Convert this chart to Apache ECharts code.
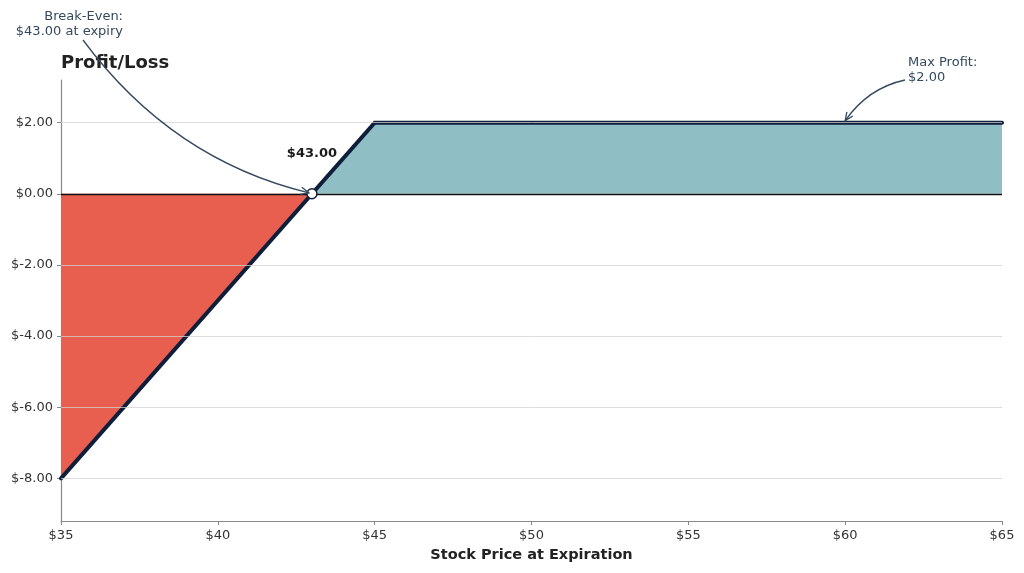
<!DOCTYPE html>
<html><head><meta charset="utf-8">
<script src="https://cdn.jsdelivr.net/npm/echarts@6/dist/echarts.min.js"></script>
<style>html,body{margin:0;padding:0;background:#fff}#c{width:1024px;height:573px}</style>
</head><body><div id="c"></div>
<script>
// ---- data ----
const lossArea = [[35, -8], [43, 0]];
const profitArea = [[43, 0], [45, 2], [65, 2]];
const payoff = [[35, -8], [45, 2], [65, 2]];
const breakEven = [43, 0];
const maxProfitPoint = [60, 2];
const yTickValues = [-8, -6, -4, -2, 0, 2];
const gridValues = [-8, -6, -4, -2, 2];
const breakEvenText = 'Break-Even:\n$43.00 at expiry';
const breakEvenLabel = '$43.00';
const maxProfitText = 'Max Profit:\n$2.00';

const FONT = 'DejaVu Sans';
const annoColor = '#34495e';
const chart = echarts.init(document.getElementById('c'), null, {renderer: 'canvas'});

chart.setOption({
  animation: false,
  backgroundColor: '#fff',
  textStyle: {fontFamily: FONT},
  title: {
    text: 'Profit/Loss', left: 61, top: 54, padding: 0,
    textStyle: {fontFamily: FONT, fontSize: 18, fontWeight: 'bold', color: '#222'}
  },
  grid: {left: 61, right: 22, top: 80, bottom: 52, containLabel: false},
  xAxis: {
    type: 'value', min: 35, max: 65, interval: 5,
    name: 'Stock Price at Expiration', nameLocation: 'middle', nameGap: 27,
    nameTextStyle: {fontFamily: FONT, fontSize: 14.5, fontWeight: 'bold', color: '#222'},
    axisLine: {show: true, onZero: false, lineStyle: {color: '#888', width: 1.2}},
    axisTick: {show: true, length: 4, lineStyle: {color: '#888'}},
    axisLabel: {fontFamily: FONT, fontSize: 13, color: '#333', margin: 8, formatter: v => '$' + v},
    splitLine: {show: false}
  },
  yAxis: {
    type: 'value', min: -9.2, max: 3.2,
    axisLine: {show: true, onZero: false, lineStyle: {color: '#888', width: 1.2}},
    axisTick: {show: true, length: 4, customValues: yTickValues, lineStyle: {color: '#888'}},
    axisLabel: {fontFamily: FONT, fontSize: 13, color: '#333', margin: 8,
      customValues: yTickValues, formatter: v => '$' + Number(v).toFixed(2)},
    splitLine: {show: false}
  },
  series: [
    {type: 'line', data: lossArea, showSymbol: false, z: 1,
      lineStyle: {width: 0}, areaStyle: {color: '#e85f4f', opacity: 1, origin: 0}},
    {type: 'line', data: profitArea, showSymbol: false, z: 1,
      lineStyle: {width: 0}, areaStyle: {color: '#8fbfc4', opacity: 1, origin: 0}},
    {type: 'line', data: [], z: 2, silent: true,
      markLine: {silent: true, symbol: 'none', label: {show: false},
        lineStyle: {color: 'rgba(210,210,210,0.75)', type: 'solid', width: 1},
        data: gridValues.map(v => ({yAxis: v}))}},
    {type: 'line', data: [], z: 3, silent: true,
      markLine: {silent: true, symbol: 'none', label: {show: false},
        lineStyle: {color: '#111', type: 'solid', width: 1.3},
        data: [{yAxis: 0}]}},
    {type: 'line', data: payoff, showSymbol: false, z: 4,
      lineStyle: {color: '#0f1e3a', width: 4, cap: 'round', join: 'miter'}},
    {type: 'scatter', data: [breakEven], z: 5, symbol: 'circle', symbolSize: 10,
      itemStyle: {color: '#ffffff', borderColor: '#0f1e3a', borderWidth: 1.5, opacity: 1},
      label: {show: true, position: 'top', distance: 28, formatter: breakEvenLabel,
        fontFamily: FONT, fontSize: 13, fontWeight: 'bold', color: '#1a1a1a',
        textBorderWidth: 0, opacity: 1}}
  ]
});

function arrow(p0, c, p2) {
  const ang = Math.atan2(p2[1] - c[1], p2[0] - c[0]);
  const L = 9, a = 0.42;
  const h1 = [p2[0] - L * Math.cos(ang - a), p2[1] - L * Math.sin(ang - a)];
  const h2 = [p2[0] - L * Math.cos(ang + a), p2[1] - L * Math.sin(ang + a)];
  return [
    {type: 'bezierCurve', shape: {x1: p0[0], y1: p0[1], cpx1: c[0], cpy1: c[1], x2: p2[0], y2: p2[1]},
      style: {stroke: annoColor, lineWidth: 1.3, fill: null}, z: 100},
    {type: 'polyline', shape: {points: [h1, p2, h2]},
      style: {stroke: annoColor, lineWidth: 1.3, fill: null}, z: 100}
  ];
}

const be = chart.convertToPixel({gridIndex: 0}, breakEven);
const mp = chart.convertToPixel({gridIndex: 0}, maxProfitPoint);
const beStart = [83, 40];
const mpStart = [905, 80];
const beEnd = [be[0] - 3, be[1] - 1];
const mpEnd = [mp[0], mp[1] - 2];

chart.setOption({
  graphic: [
    {type: 'text', x: 123, y: 9, z: 100,
      style: {text: breakEvenText, fontFamily: FONT, fontSize: 13, fill: annoColor,
        align: 'right', verticalAlign: 'top', lineHeight: 15}},
    {type: 'text', x: 908, y: 55, z: 100,
      style: {text: maxProfitText, fontFamily: FONT, fontSize: 13, fill: annoColor,
        align: 'left', verticalAlign: 'top', lineHeight: 15}},
    ...arrow(beStart, [172, 160], beEnd),
    ...arrow(mpStart, [868, 88], mpEnd)
  ]
});
</script></body></html>
